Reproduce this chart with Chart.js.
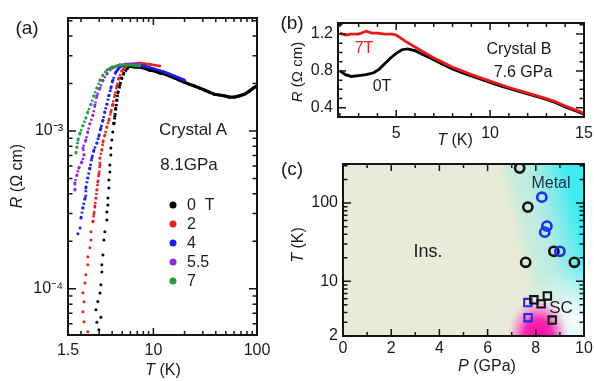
<!DOCTYPE html>
<html>
<head>
<meta charset="utf-8">
<script src="https://cdn.jsdelivr.net/npm/chart.js@4.4.0/dist/chart.umd.min.js"></script>
<style>
body { margin: 0; background: #fff; }
#fig { position: relative; width: 594px; height: 381px; overflow: hidden;
       font-family: "Liberation Sans", Arial, sans-serif; color: #1a1a1a; }
.box { position: absolute; }
.t { position: absolute; transform: translate(-50%, -50%); white-space: nowrap; font-size: 16px; line-height: 1; }
.r { transform: translate(-50%, -50%) rotate(-90deg); }
.dot { position: absolute; width: 7px; height: 7px; border-radius: 50%; transform: translate(-50%, -50%); }
.lg { position: absolute; transform: translateY(-50%); font-size: 16px; line-height: 1; white-space: nowrap; }
</style>
</head>
<body>
<div id="fig">
  <div class="box" style="left:0;top:0;width:270px;height:381px"><canvas id="ca" width="270" height="381"></canvas></div>
  <div class="box" style="left:290px;top:0;width:304px;height:150px"><canvas id="cb" width="304" height="150"></canvas></div>
  <div class="box" style="left:290px;top:150px;width:304px;height:231px"><canvas id="cc" width="304" height="231"></canvas></div>

  <!-- panel (a) texts -->
  <span class="t" style="left:27px;top:27px;font-size:19px">(a)</span>
  <span class="t r" style="left:17px;top:176px"><i>R</i> (Ω cm)</span>
  <span class="t" style="left:163px;top:370px"><i>T</i> (K)</span>
  <span class="t" style="left:193px;top:129px;font-size:17px">Crystal A</span>
  <span class="t" style="left:189px;top:164px;font-size:17px">8.1GPa</span>
  <div class="dot" style="left:173px;top:205px;background:#000"></div>
  <div class="dot" style="left:173px;top:224px;background:#e6201e"></div>
  <div class="dot" style="left:173px;top:243px;background:#1e1ee6"></div>
  <div class="dot" style="left:173px;top:262px;background:#8e2bd8"></div>
  <div class="dot" style="left:173px;top:281px;background:#1e9e3e"></div>
  <span class="lg" style="left:187px;top:205px">0&nbsp;&nbsp;T</span>
  <span class="lg" style="left:187px;top:224px">2</span>
  <span class="lg" style="left:187px;top:243px">4</span>
  <span class="lg" style="left:187px;top:262px">5.5</span>
  <span class="lg" style="left:187px;top:281px">7</span>

  <!-- panel (b) texts -->
  <span class="t" style="left:292px;top:22px;font-size:19px">(b)</span>
  <span class="t r" style="left:296px;top:72px;font-size:15px"><i>R</i> (Ω cm)</span>
  <span class="t" style="left:455px;top:140px"><i>T</i> (K)</span>
  <span class="t" style="left:364px;top:48px;color:#e6201e">7T</span>
  <span class="t" style="left:382px;top:86px">0T</span>
  <span class="t" style="left:519px;top:49px">Crystal B</span>
  <span class="t" style="left:523px;top:72px">7.6 GPa</span>

  <!-- panel (c) texts -->
  <span class="t" style="left:292px;top:168px;font-size:19px">(c)</span>
  <span class="t r" style="left:298px;top:245px"><i>T</i> (K)</span>
  <span class="t" style="left:487px;top:366px"><i>P</i> (GPa)</span>
  <span class="t" style="left:551px;top:183px;color:#1d2f4a">Metal</span>
  <span class="t" style="left:428px;top:251px;font-size:18px">Ins.</span>
  <span class="t" style="left:561px;top:307px;font-size:17px">SC</span>
</div>

<script>
// ---- panel (a): R(T) of crystal A at 8.1 GPa, fields 0..7 T ----
const aXLabels = [1.5, 10, 100];
const aYLabels = [1e-4, 1e-3];

const a0T = [2.98,2.85,3.11,2.79,2.91,3.05,3.11,3.18,3.18,3.26,3.33,3.40,3.56,3.56,3.64,3.64,3.72,3.72,3.80,3.80,
             3.89,3.89,3.97,4.06,4.15,4.25,4.34,4.44,4.54,4.74,4.96,5.18,5.54,5.84,6.61,7.38,8.25,9.2,10.3,11.5,
             12.9,14.4,16.0,17.9,20.0,22.3,24.9,27.9,31.1,34.8,38.8,43.4,48.5,54.2,60.5,67.6,75.5,84.3,92,100];
const a0R = [5.5e-5,6.15e-5,6.6e-5,7.36e-5,8.3e-5,9.4e-5,1.06e-4,1.28e-4,1.42e-4,1.64e-4,
             2.04e-4,2.3e-4,2.73e-4,3.07e-4,3.4e-4,3.77e-4,4.36e-4,4.9e-4,5.5e-4,6.1e-4,
             7.05e-4,7.8e-4,8.77e-4,9.86e-4,1.11e-3,1.24e-3,1.40e-3,1.57e-3,1.74e-3,1.95e-3,
             2.17e-3,2.33e-3,2.47e-3,2.58e-3,2.54e-3,2.54e-3,2.50e-3,2.43e-3,2.40e-3,2.33e-3,
             2.30e-3,2.23e-3,2.17e-3,2.10e-3,2.04e-3,1.98e-3,1.93e-3,1.87e-3,1.82e-3,1.76e-3,
             1.71e-3,1.69e-3,1.67e-3,1.64e-3,1.64e-3,1.67e-3,1.71e-3,1.79e-3,1.87e-3,1.93e-3];

const a2T = [2.33,2.14,2.09,2.14,2.09,2.19,2.23,2.33,2.33,2.44,2.50,2.50,2.61,2.67,2.73,2.79,2.85,2.91,2.98,3.05,
             3.05,3.18,3.26,3.40,3.56,3.72,3.89,4.06,4.25,4.44,4.64,4.96,5.30,5.84,7.38,9.2,11.5];
const a2R = [5.34e-5,6.18e-5,7.15e-5,8.28e-5,9.44e-5,1.09e-4,1.23e-4,1.42e-4,1.60e-4,1.82e-4,
             2.04e-4,2.30e-4,2.66e-4,2.98e-4,3.35e-4,3.77e-4,4.23e-4,4.76e-4,5.35e-4,6.09e-4,
             6.75e-4,7.58e-4,8.52e-4,9.43e-4,1.06e-3,1.17e-3,1.32e-3,1.48e-3,1.69e-3,1.93e-3,
             2.17e-3,2.40e-3,2.54e-3,2.65e-3,2.69e-3,2.65e-3,2.58e-3];

const a4T = [1.87,1.96,2.00,2.09,2.19,2.23,2.33,2.44,2.55,2.67,2.85,2.98,3.11,3.26,3.40,3.56,3.72,3.89,4.06,4.34,
             4.74,5.42,6.61,8.25,10.3,12.9,16.0,20.0];
const a4R = [2.23e-4,2.43e-4,2.81e-4,3.26e-4,3.77e-4,4.36e-4,5.04e-4,5.83e-4,6.75e-4,7.58e-4,
             8.40e-4,9.3e-4,1.04e-3,1.17e-3,1.32e-3,1.48e-3,1.67e-3,1.87e-3,2.10e-3,2.36e-3,
             2.54e-3,2.65e-3,2.65e-3,2.58e-3,2.47e-3,2.36e-3,2.23e-3,2.10e-3];

const a55T = [1.75,1.75,1.83,1.91,2.04,2.14,2.09,2.23,2.33,2.44,2.61,2.73,2.85,3.05,3.26,3.56,3.97,4.74,5.84,7.38];
const a55R = [4.23e-4,4.69e-4,5.27e-4,5.83e-4,6.37e-4,7.05e-4,7.8e-4,8.77e-4,9.86e-4,1.11e-3,
              1.26e-3,1.46e-3,1.67e-3,1.87e-3,2.10e-3,2.30e-3,2.50e-3,2.62e-3,2.65e-3,2.65e-3];

const a7T = [1.79,1.83,1.87,1.96,2.09,2.23,2.33,2.50,2.67,2.85,3.05,3.26,3.56,3.97,4.74,5.84,7.38];
const a7R = [7.26e-4,7.92e-4,8.77e-4,9.71e-4,1.08e-3,1.21e-3,1.32e-3,1.48e-3,1.67e-3,1.87e-3,
             2.10e-3,2.26e-3,2.43e-3,2.54e-3,2.62e-3,2.62e-3,2.58e-3];

// ---- panel (b): crystal B at 7.6 GPa ----
const bXLabels = [5, 10, 15];
const bYLabels = [0.4, 0.8, 1.2];
const b7T = [2.0,2.3,2.6,3.0,3.4,3.7,4.0,4.4,4.8,5.0,5.5,6,6.5,7,7.5,8,8.5,9,9.5,10,10.5,11,11.5,12,12.5,13,13.5,14,14.5,15];
const b7R = [1.21,1.19,1.20,1.20,1.23,1.21,1.21,1.20,1.20,1.19,1.12,1.06,1.00,0.94,0.89,0.84,0.80,0.76,0.725,0.69,
             0.655,0.62,0.59,0.56,0.53,0.50,0.465,0.42,0.38,0.34];
const b0T = [2.0,2.3,2.6,3.0,3.4,3.8,4.1,4.4,4.7,5.0,5.3,5.6,6.0,6.5,7,7.5,8,8.5,9,9.5,10,10.5,11,11.5,12,12.5,13,13.5,14,14.5,15];
const b0R = [0.80,0.76,0.74,0.75,0.76,0.78,0.82,0.88,0.94,0.99,1.03,1.04,1.02,0.97,0.92,0.87,0.82,0.78,0.745,0.71,
             0.675,0.64,0.61,0.58,0.55,0.52,0.49,0.455,0.41,0.37,0.33];

// ---- panel (c): P-T phase diagram ----
const cXLabels = [0, 2, 4, 6, 8, 10];
const cYLabels = [2, 10, 100];
const cMetalAP = [7.33, 7.67, 7.58, 8.75, 9.6];
const cMetalAT = [281, 89, 17.5, 24.2, 17.5];
const cMetalBP = [8.25, 8.46, 8.37, 9.0];
const cMetalBT = [119, 50.7, 42.5, 24.2];
const cScAP = [7.92, 8.22, 8.48, 8.68];
const cScAT = [5.8, 5.15, 6.5, 3.2];
const cScBP = [7.67, 7.68];
const cScBT = [5.35, 3.43];

const FONT = '"Liberation Sans", Arial, sans-serif';
Chart.defaults.font.family = FONT;
Chart.defaults.color = '#1a1a1a';

function pts(xs, ys) { return xs.map((x, i) => ({ x: x, y: ys[i] })); }
function range(a, b, step) { const r = []; for (let v = a; v <= b + 1e-9; v += step) r.push(+v.toFixed(4)); return r; }
function decades(lo, hi) {
  const r = [];
  for (let e = -6; e <= 3; e++) for (let m = 2; m <= 9; m++) { const v = m * Math.pow(10, e); if (v > lo && v < hi) r.push(v); }
  return r;
}
const SUP = { '-': '⁻', '0': '⁰', '1': '¹', '2': '²', '3': '³', '4': '⁴', '5': '⁵', '6': '⁶', '7': '⁷', '8': '⁸', '9': '⁹' };
function pow10Label(v) { return '10' + String(Math.round(Math.log10(v))).split('').map(c => SUP[c]).join(''); }

// inward ticks on all four sides plus the closed frame
const framePlugin = {
  id: 'frame',
  afterDatasetsDraw(chart, args, opts) {
    const { ctx, chartArea: a, scales } = chart;
    ctx.save();
    ctx.strokeStyle = '#151515';
    ctx.lineWidth = 1.5;
    const tx = (vals, len) => vals.forEach(v => {
      const p = scales.x.getPixelForValue(v);
      ctx.beginPath();
      ctx.moveTo(p, a.bottom); ctx.lineTo(p, a.bottom - len);
      ctx.moveTo(p, a.top); ctx.lineTo(p, a.top + len);
      ctx.stroke();
    });
    const ty = (vals, len) => vals.forEach(v => {
      const p = scales.y.getPixelForValue(v);
      ctx.beginPath();
      ctx.moveTo(a.left, p); ctx.lineTo(a.left + len, p);
      ctx.moveTo(a.right, p); ctx.lineTo(a.right - len, p);
      ctx.stroke();
    });
    tx(opts.xMajor, 7); tx(opts.xMinor, 4);
    ty(opts.yMajor, 8); ty(opts.yMinor, 4.5);
    ctx.lineWidth = 2;
    ctx.strokeRect(a.left, a.top, a.right - a.left, a.bottom - a.top);
    ctx.restore();
  }
};

function axis(type, min, max, labels, fmt, pad, fitSize, horizontal) {
  return {
    type: type, min: min, max: max,
    grid: { display: false, drawTicks: false },
    border: { display: false },
    ticks: { font: { size: 16 }, padding: pad, maxRotation: 0, autoSkip: false, callback: fmt, color: '#1a1a1a' },
    afterBuildTicks: s => { s.ticks = labels.map(v => ({ value: v })); },
    afterFit: s => {
      if (horizontal) { s.height = fitSize; s.paddingLeft = 0; s.paddingRight = 0; }
      else { s.width = fitSize; s.paddingTop = 0; s.paddingBottom = 0; }
    }
  };
}

function baseOptions(pad, scales, frame) {
  return {
    responsive: false, animation: false, events: [],
    layout: { padding: pad },
    plugins: { legend: { display: false }, tooltip: { enabled: false }, frame: frame },
    scales: scales
  };
}

// ---------- chart (a) ----------
function aSeries(xs, ys, color, lineMin, solidT, width) {
  return {
    data: pts(xs, ys), showLine: true, borderColor: color, borderWidth: width,
    pointRadius: 1.5, pointBorderWidth: 0, pointBackgroundColor: color,
    segment: {
      borderColor: c => (c.p0.parsed.y >= lineMin && c.p1.parsed.y >= lineMin) ? color : 'rgba(0,0,0,0)',
      borderDash: c => c.p0.parsed.x >= solidT ? [] : [2, 2.5]
    }
  };
}
new Chart(document.getElementById('ca'), {
  type: 'scatter',
  data: { datasets: [
    aSeries(a7T, a7R, '#1e9e3e', 7e-4, 3.5, 2.6),
    aSeries(a55T, a55R, '#8e2bd8', 4e-4, 3.8, 2.6),
    aSeries(a4T, a4R, '#1e1ee6', 2.5e-4, 4.2, 2.8),
    aSeries(a2T, a2R, '#e6201e', 2.5e-4, 4.8, 2.6),
    aSeries(a0T, a0R, '#000000', 1e-3, 5.2, 3.2)
  ] },
  options: baseOptions({ left: 0, right: 13, top: 18, bottom: 0 }, {
    x: axis('logarithmic', 1.5, 100, aXLabels, v => String(v), 6, 46, true),
    y: axis('logarithmic', 5.1e-5, 5.2e-3, aYLabels, v => pow10Label(v), 5, 68, false)
  }, {
    xMajor: [10], xMinor: decades(1.5, 100).filter(v => v !== 10),
    yMajor: aYLabels, yMinor: decades(5.1e-5, 5.2e-3).filter(v => v !== 1e-4 && v !== 1e-3)
  }),
  plugins: [framePlugin]
});

// ---------- chart (b) ----------
new Chart(document.getElementById('cb'), {
  type: 'scatter',
  data: { datasets: [
    { data: pts(b7T, b7R), showLine: true, borderColor: '#e8191a', borderWidth: 2.8, pointRadius: 0 },
    { data: pts(b0T, b0R), showLine: true, borderColor: '#000000', borderWidth: 2.8, pointRadius: 0 }
  ] },
  options: baseOptions({ left: 0, right: 10, top: 23, bottom: 0 }, {
    x: axis('linear', 1.9, 15, bXLabels, v => String(v), 7, 33, true),
    y: axis('linear', 0.3, 1.32, bYLabels, v => v.toFixed(1), 5, 48, false)
  }, {
    xMajor: bXLabels, xMinor: range(2, 14, 1).filter(v => bXLabels.indexOf(v) < 0),
    yMajor: bYLabels, yMinor: [0.5, 0.6, 0.7, 0.9, 1.0, 1.1, 1.3]
  }),
  plugins: [framePlugin]
});

// ---------- chart (c) ----------
const phasePlugin = {
  id: 'phase',
  beforeDatasetsDraw(chart) {
    const { ctx, chartArea: a, scales: { x, y } } = chart;
    const w = a.right - a.left, h = a.bottom - a.top;
    ctx.save();
    ctx.beginPath(); ctx.rect(a.left, a.top, w, h); ctx.clip();
    ctx.fillStyle = '#e8ebd7';
    ctx.fillRect(a.left, a.top, w, h);
    // metallic region, boundary tilted towards high P at low T
    const mx = x.getPixelForValue(7.8), my = a.top;
    const nx = 0.972, ny = -0.233, hw = 32;
    const g = ctx.createLinearGradient(mx - nx * hw, my - ny * hw, mx + nx * hw, my + ny * hw);
    g.addColorStop(0, 'rgba(72,236,240,0)');
    g.addColorStop(0.4, 'rgba(150,236,236,0.5)');
    g.addColorStop(1, 'rgba(64,236,242,1)');
    ctx.fillStyle = g;
    ctx.fillRect(a.left, a.top, w, h);
    // pale corner near SC
    const wx = x.getPixelForValue(9.7), wy = y.getPixelForValue(3.2);
    const rg = ctx.createRadialGradient(wx, wy, 0, wx, wy, 55);
    rg.addColorStop(0, 'rgba(255,255,255,0.95)');
    rg.addColorStop(1, 'rgba(255,255,255,0)');
    ctx.fillStyle = rg;
    ctx.fillRect(a.left, a.top, w, h);
    // superconducting dome
    const sx = x.getPixelForValue(8.1), sy = a.bottom + 2;
    ctx.translate(sx, sy);
    ctx.scale(1, 1.3);
    const pg = ctx.createRadialGradient(0, 0, 0, 0, 0, 32);
    pg.addColorStop(0, 'rgba(255,0,160,1)');
    pg.addColorStop(0.45, 'rgba(250,30,175,0.95)');
    pg.addColorStop(0.75, 'rgba(250,120,205,0.55)');
    pg.addColorStop(1, 'rgba(250,190,230,0)');
    ctx.fillStyle = pg;
    ctx.beginPath(); ctx.arc(0, 0, 32, 0, Math.PI * 2); ctx.fill();
    ctx.restore();
  }
};
function marks(xs, ys, color, style) {
  const circ = style === 'circle';
  return {
    data: pts(xs, ys), pointStyle: style, pointRadius: circ ? 4.6 : 5.2,
    pointBorderWidth: circ ? 2.6 : 2.1, pointBorderColor: color, pointBackgroundColor: 'rgba(0,0,0,0)'
  };
}
new Chart(document.getElementById('cc'), {
  type: 'scatter',
  data: { datasets: [
    marks(cScAP, cScAT, '#111111', 'rect'),
    marks(cScBP, cScBT, '#1f2fe8', 'rect'),
    marks(cMetalBP, cMetalBT, '#1f2fe8', 'circle'),
    marks(cMetalAP, cMetalAT, '#111111', 'circle')
  ] },
  options: baseOptions({ left: 0, right: 10, top: 14, bottom: 0 }, {
    x: axis('linear', 0, 10, cXLabels, v => String(v), 3, 45, true),
    y: axis('logarithmic', 2, 316, cYLabels, v => String(v), 5, 53, false)
  }, {
    xMajor: cXLabels, xMinor: [1, 3, 5, 7, 9],
    yMajor: [10, 100], yMinor: decades(2, 316).filter(v => v !== 10 && v !== 100)
  }),
  plugins: [phasePlugin, framePlugin]
});
</script>
</body>
</html>
